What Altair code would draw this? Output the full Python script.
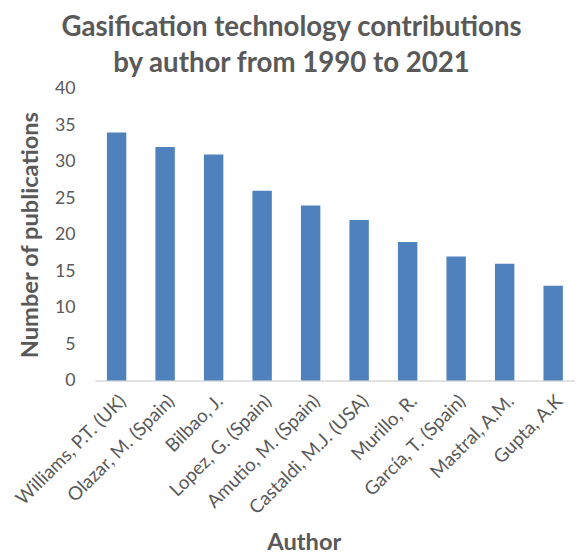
import altair as alt
import pandas as pd

authors = ["Williams, P.T. (UK)", "Olazar, M. (Spain)", "Bilbao, J.", "Lopez, G. (Spain)",
           "Amutio, M. (Spain)", "Castaldi, M.J. (USA)", "Murillo, R.", "García, T. (Spain)",
           "Mastral, A.M.", "Gupta, A.K"]
publications = [34, 32, 31, 26, 24, 22, 19, 17, 16, 13]
y_ticks = [0, 5, 10, 15, 20, 25, 30, 35, 40]

df = pd.DataFrame({"author": authors, "pubs": publications})

FONT = "Lato"
GRAY = "#595959"

chart = alt.Chart(df).mark_bar(color="#4F81BD").encode(
    x=alt.X("author:N", sort=authors, title="Author",
            scale=alt.Scale(paddingInner=0.6, paddingOuter=0.25),
            axis=alt.Axis(labelAngle=-45, labelFontSize=19, labelColor=GRAY, labelFont=FONT,
                          ticks=False, domainColor="#D9D9D9", domainWidth=1.5,
                          labelPadding=11,
                          titleFont=FONT, titleFontSize=24, titleColor=GRAY, titleFontWeight="bold",
                          titleX=212, titleY=171, titleAnchor="middle", titleAlign="center",
                          titleBaseline="alphabetic")),
    y=alt.Y("pubs:Q", title="Number of publications",
            scale=alt.Scale(domain=[0, 40]),
            axis=alt.Axis(values=y_ticks, grid=False, domain=False, ticks=False,
                          labelFontSize=18, labelColor=GRAY, labelFont=FONT, labelPadding=20,
                          titleFont=FONT, titleFontSize=24, titleColor=GRAY, titleFontWeight="bold",
                          titlePadding=12)),
).properties(
    width=487, height=296,
    autosize=alt.AutoSizeParams(type="none"),
    padding={"left": 88, "top": 78, "right": 0, "bottom": 172},
    title=alt.TitleParams(["Gasification technology contributions", "by author from 1990 to 2021"],
                          font=FONT, fontSize=28, fontWeight="bold", color=GRAY,
                          anchor="middle", dx=-44, offset=2, lineHeight=36),
).configure_view(stroke=None)

chart.save("out.html", embed_options={"renderer": "svg", "actions": False})
